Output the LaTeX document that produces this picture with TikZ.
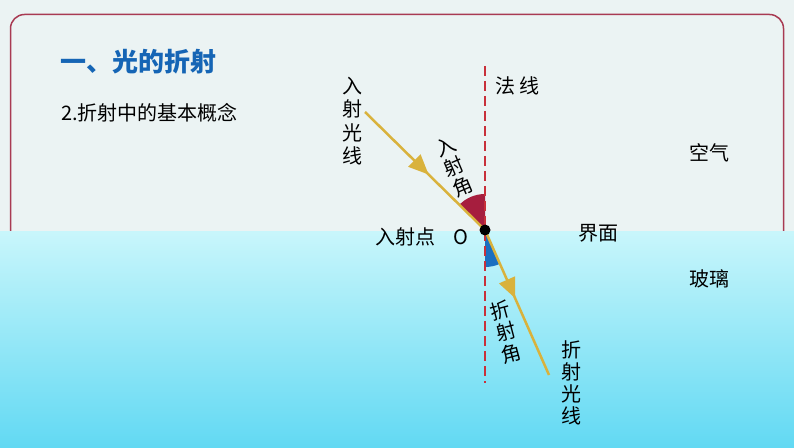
\documentclass[tikz,border=0pt]{standalone}
\usepackage{fontspec}
\setmainfont{Noto Sans CJK SC}
\usepackage{tikz}
\usetikzlibrary{arrows.meta,decorations.markings}
\definecolor{sfondo}{HTML}{EBF3F3}
\definecolor{bordo}{HTML}{A83A52}
\definecolor{titolo}{HTML}{1565B5}
\definecolor{acquaalto}{HTML}{C8F6FB}
\definecolor{acquabasso}{HTML}{62D9F3}
\definecolor{raggio}{HTML}{D9B23C}
\definecolor{normale}{HTML}{C8303A}
\definecolor{angrosso}{HTML}{A61E3E}
\definecolor{angblu}{HTML}{1B6FC0}
\tikzset{
  etichetta/.style={inner sep=0pt, font=\fontsize{20}{22}\selectfont, align=center},
  raggioluce/.style={draw=raggio, line width=2.5pt, postaction={decorate},
    decoration={markings, mark=at position #1 with {\arrow[raggio]{Triangle[length=20pt,width=17pt]}}}}
}
\begin{document}
\begin{tikzpicture}[x=1pt,y=1pt]
			\useasboundingbox (0,0) rectangle (794,447);
			%sfondo e acqua
			\fill[sfondo] (0,0) rectangle (794,447);
			\draw[bordo, line width=1.5pt, rounded corners=14pt] (10.5,150) -- (10.5,432.5) -- (783.5,432.5) -- (783.5,150);
			\shade[top color=acquaalto, bottom color=acquabasso] (0,0) rectangle (794,215);
			%punti
			\coordinate (O) at (485,217);
			\coordinate (nTop) at (485,381);
			\coordinate (nBot) at (485,64);
			\coordinate (inStart) at (365,335);
			\coordinate (outEnd) at (549,72);
			%angoli
			\fill[angrosso] (O) -- ++(90:36) arc (90:135.5:36) -- cycle;
			\fill[angblu] (O) -- ++(270:37) arc (270:293.8:37) -- cycle;
			\draw[normale, line width=2pt, dash pattern=on 10pt off 5pt] (nTop) -- (nBot);
			%raggi
			\draw[raggioluce=0.53] (inStart) -- (O);
			\draw[raggioluce=0.47] (O) -- (outEnd);
			\fill (O) circle (5.5pt);
			%Testi
			\node[anchor=west, inner sep=0pt, text=titolo, font=\fontsize{26}{30}\selectfont\bfseries] (tit) at (60,385) {一、光的折射};
			\node[anchor=west, inner sep=0pt, font=\fontsize{20}{24}\selectfont] (sottotit) at (61,334) {2.折射中的基本概念};
			\node[etichetta, font=\fontsize{20}{23.5}\selectfont] (lIn) at (352,326) {入\\射\\光\\线};
			\node[etichetta, anchor=west] (lNorm) at (495,361) {法 线};
			\node[etichetta] (lAria) at (709,294) {空气};
			\node[etichetta] (lInterf) at (598,214) {界面};
			\node[etichetta] (lVetro) at (709,168) {玻璃};
			\node[etichetta] (lPunto) at (405,210) {入射点};
			\node[etichetta] (lO) at (461,210) {O};
			\node[etichetta, rotate=23] (lAngIn) at (454,280) {入\\射\\角};
			\node[etichetta, rotate=15] (lAngOut) at (506,115) {折\\射\\角};
			\node[etichetta] (lOut) at (571,64) {折\\射\\光\\线};
	\end{tikzpicture}
\end{document}
